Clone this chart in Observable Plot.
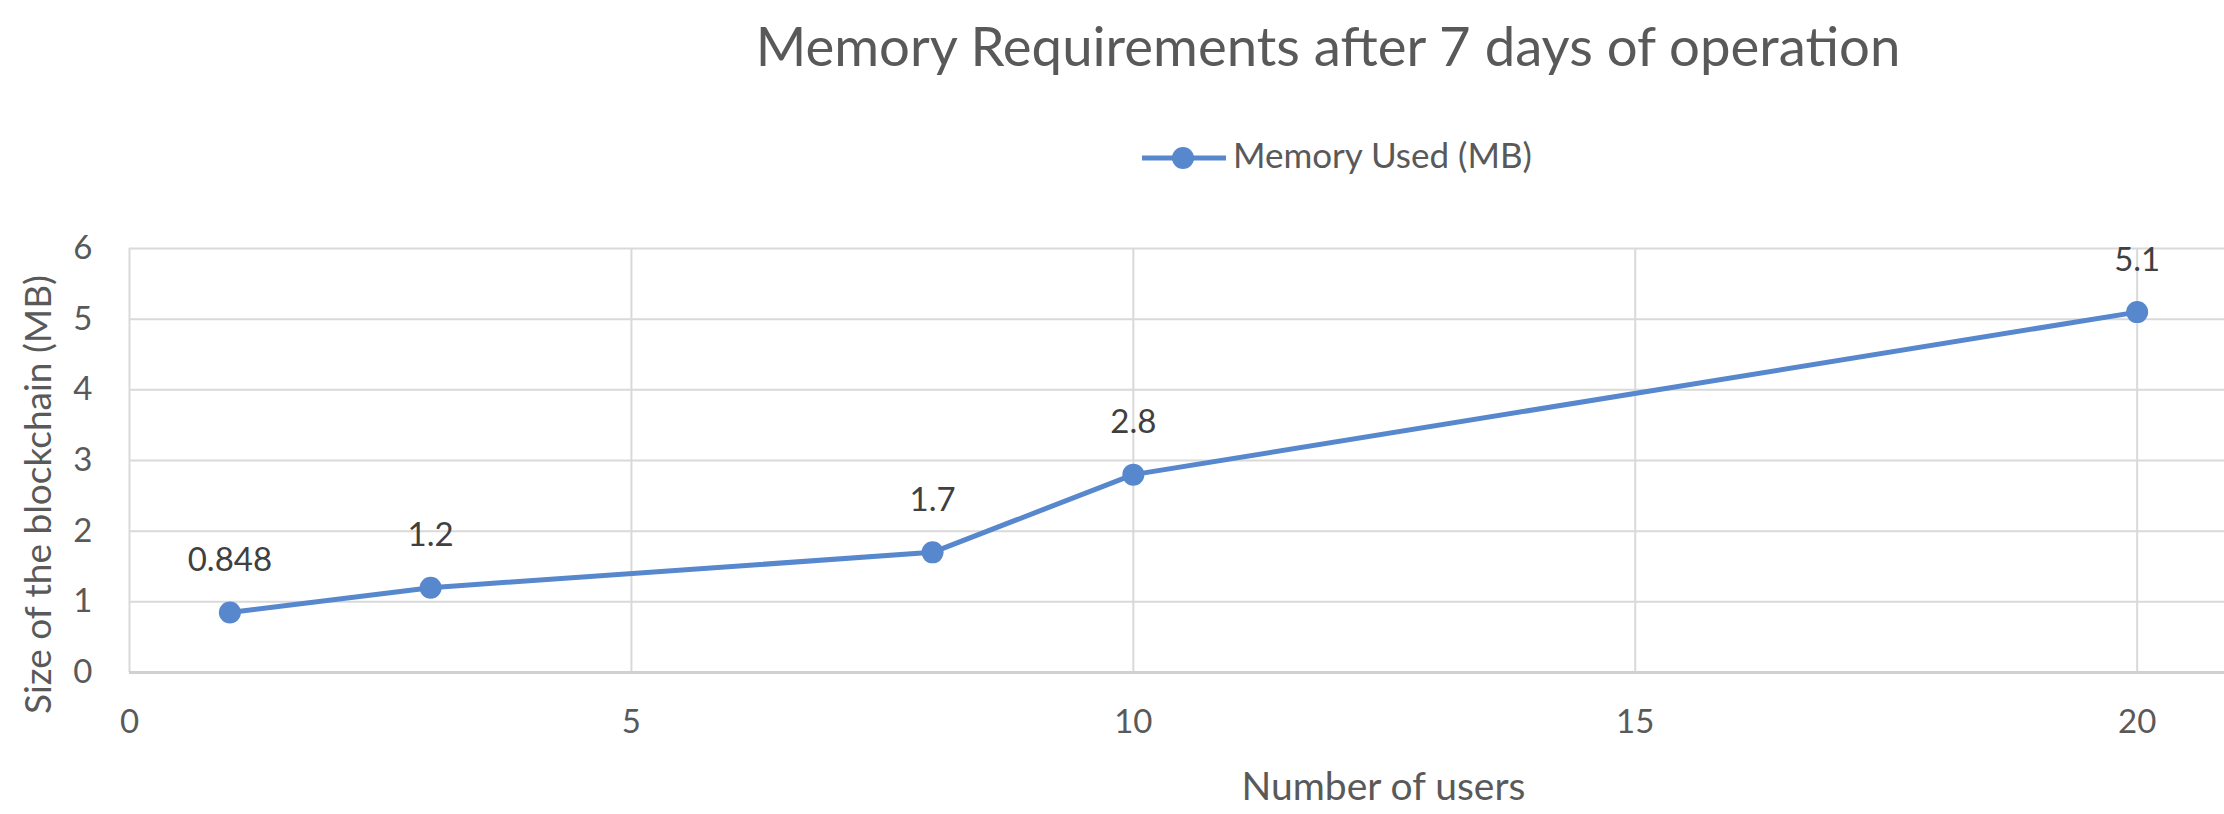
<!DOCTYPE html>
<html>
<head>
<meta charset="utf-8">
<script src="https://cdn.jsdelivr.net/npm/d3@7"></script>
<script src="https://cdn.jsdelivr.net/npm/@observablehq/plot@0.6"></script>
<style>
  html, body { margin: 0; padding: 0; background: #ffffff; }
  #wrap { width: 2224px; height: 814px; overflow: hidden; background: #ffffff; }
  #header { position: relative; width: 2224px; height: 200px; font-family: Lato, sans-serif; }
  #title { position: absolute; left: 1328px; top: 18px; transform: translateX(-50%);
           font-size: 54.5px; line-height: 1; color: #595959; white-space: nowrap; }
  #legend-mark { position: absolute; left: 1140px; top: 146px; }
  #legend-text { position: absolute; left: 1233px; top: 137px; font-size: 35px; line-height: 1;
                 color: #595959; white-space: nowrap; }
  #chart svg { display: block; }
</style>
</head>
<body>
<div id="wrap">
  <div id="header">
    <div id="title"></div>
    <svg id="legend-mark" width="90" height="24"></svg>
    <div id="legend-text"></div>
  </div>
  <div id="chart"></div>
</div>
<script>
// ---- data ----
const users = [1, 3, 8, 10, 20];
const memoryMB = [0.848, 1.2, 1.7, 2.8, 5.1];
const dataLabels = ["0.848", "1.2", "1.7", "2.8", "5.1"];
const xTicks = [0, 5, 10, 15, 20];
const yTicks = [0, 1, 2, 3, 4, 5, 6];
const seriesName = "Memory Used (MB)";
const titleText = "Memory Requirements after 7 days of operation";
const xLabel = "Number of users";
const yLabel = "Size of the blockchain (MB)";

const blue = "#5787CD";
const data = users.map((u, i) => ({users: u, memory: memoryMB[i], label: dataLabels[i]}));

document.getElementById("title").textContent = titleText;
document.getElementById("legend-text").textContent = seriesName;
const lm = d3.select("#legend-mark");
lm.append("line").attr("x1", 2).attr("x2", 86).attr("y1", 12).attr("y2", 12)
  .attr("stroke", blue).attr("stroke-width", 5);
lm.append("circle").attr("cx", 43).attr("cy", 12).attr("r", 11).attr("fill", blue);

const chart = Plot.plot({
  width: 2224,
  height: 614,
  marginTop: 48,
  marginBottom: 142,
  marginLeft: 129,
  marginRight: 0,
  x: {domain: [0, 20.87]},
  y: {domain: [0, 6]},
  style: {fontFamily: "Lato, sans-serif", color: "#595959", background: "#ffffff"},
  marks: [
    Plot.ruleY(yTicks.filter(d => d > 0), {stroke: "#d9d9d9", strokeWidth: 2}),
    Plot.ruleX(xTicks, {stroke: "#d9d9d9", strokeWidth: 2}),
    Plot.ruleY([0], {stroke: "#d0d0d0", strokeWidth: 3}),
    Plot.axisX({ticks: xTicks, tickFormat: d3.format("d"), tickSize: 0, tickPadding: 37, fontSize: 33, label: null, fill: "#595959"}),
    Plot.axisY({ticks: yTicks, tickFormat: d3.format("d"), tickSize: 0, tickPadding: 37, fontSize: 33, label: null, fill: "#595959"}),
    Plot.line(data, {x: "users", y: "memory", stroke: blue, strokeWidth: 5}),
    Plot.dot(data, {x: "users", y: "memory", r: 11, fill: blue}),
    Plot.text(data, {x: "users", y: "memory", text: "label", dy: -52, fontSize: 33, fill: "#404040"}),
    Plot.text([xLabel], {text: d => d, frameAnchor: "bottom", textAnchor: "middle", lineAnchor: "middle",
                         dx: 206.5, dy: 115, fontSize: 39, fill: "#595959"}),
    Plot.text([yLabel], {text: d => d, frameAnchor: "left", textAnchor: "middle", lineAnchor: "middle",
                         rotate: -90, dx: -90.5, dy: 34, fontSize: 37, fill: "#595959"})
  ]
});
document.getElementById("chart").appendChild(chart);
</script>
</body>
</html>
